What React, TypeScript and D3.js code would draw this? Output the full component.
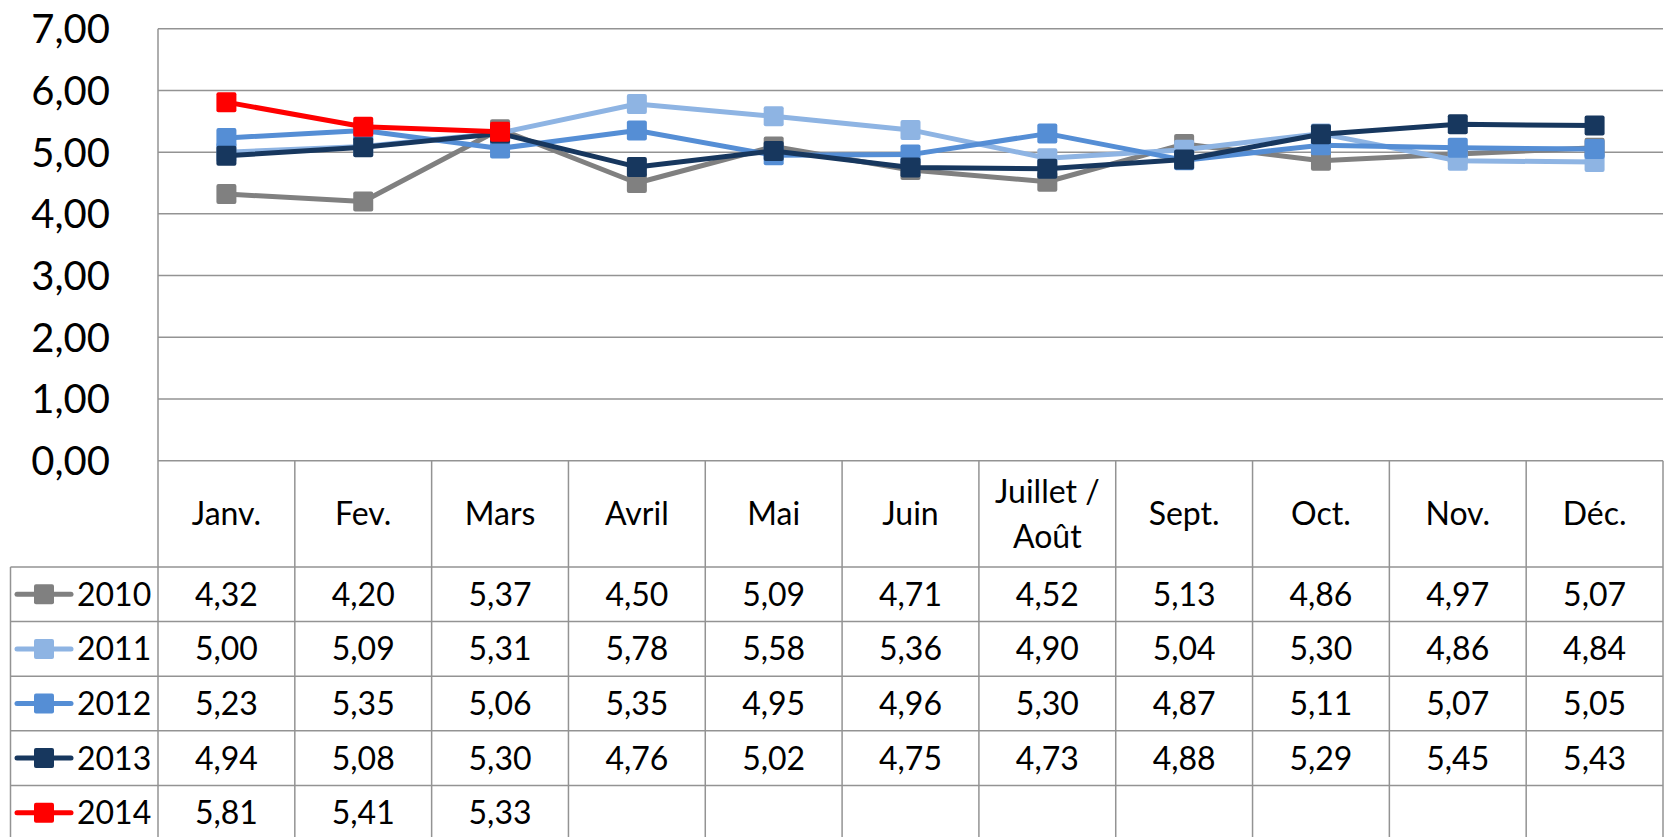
import * as d3 from 'd3';

const months = ['Janv.', 'Fev.', 'Mars', 'Avril', 'Mai', 'Juin', 'Juillet / Août', 'Sept.', 'Oct.', 'Nov.', 'Déc.'];
const years = ['2010', '2011', '2012', '2013', '2014'];
const v2010 = [4.32, 4.2, 5.37, 4.5, 5.09, 4.71, 4.52, 5.13, 4.86, 4.97, 5.07];
const v2011 = [5.0, 5.09, 5.31, 5.78, 5.58, 5.36, 4.9, 5.04, 5.3, 4.86, 4.84];
const v2012 = [5.23, 5.35, 5.06, 5.35, 4.95, 4.96, 5.3, 4.87, 5.11, 5.07, 5.05];
const v2013 = [4.94, 5.08, 5.3, 4.76, 5.02, 4.75, 4.73, 4.88, 5.29, 5.45, 5.43];
const v2014 = [5.81, 5.41, 5.33];
const yTicks = [0, 1, 2, 3, 4, 5, 6, 7];
const colors = ['#808080', '#8eb4e3', '#558ed5', '#17375e', '#ff0000'];

const W = 1665, H = 837;
const PL = 158, PR = 1663, PT = 28.7, PB = 460.7;
const HEAD_B = 567, ROW_H = 54.6, LEG_L = 10.5;
const FONT = 'Lato, "Open Sans", sans-serif';
const GRID = '#939393';

const series = [v2010, v2011, v2012, v2013, v2014];
const fmt = (v: number) => v.toFixed(2).replace('.', ',');

export default function App() {
  const x = d3.scaleBand<string>().domain(months).range([PL, PR]);
  const y = d3.scaleLinear().domain([0, 7]).range([PB, PT]);
  const cx = (i: number) => (x(months[i]) as number) + x.bandwidth() / 2;
  const line = d3.line<number>().x((_, i) => cx(i)).y((d) => y(d));
  const rowY = (r: number) => HEAD_B + r * ROW_H;
  const bottom = H + 5;

  return (
    <div style={{ position: 'fixed', left: 0, top: 0, background: '#fff' }}>
      <svg width={W} height={H} style={{ display: 'block' }}>
        <rect width={W} height={H} fill="#fff" />
        {/* gridlines */}
        {yTicks.map((t) => (
          <line key={t} x1={PL} x2={PR} y1={y(t)} y2={y(t)} stroke={GRID} strokeWidth={1.5} />
        ))}
        {yTicks.map((t) => (
          <text key={'l' + t} x={110} y={y(t) + 14.5} textAnchor="end" fontFamily={FONT} fontSize={40} fill="#000">
            {fmt(t)}
          </text>
        ))}
        {/* table verticals */}
        <line x1={PL} x2={PL} y1={PT} y2={bottom} stroke={GRID} strokeWidth={1.5} />
        {months.map((m) => (
          <line key={m} x1={(x(m) as number) + x.bandwidth()} x2={(x(m) as number) + x.bandwidth()} y1={PB} y2={bottom} stroke={GRID} strokeWidth={1.5} />
        ))}
        <line x1={LEG_L} x2={LEG_L} y1={HEAD_B} y2={bottom} stroke={GRID} strokeWidth={1.5} />
        {years.map((yr, r) => (
          <line key={yr} x1={LEG_L} x2={PR} y1={rowY(r)} y2={rowY(r)} stroke={GRID} strokeWidth={1.5} />
        ))}
        {/* header */}
        {months.map((m) => {
          const parts = m.includes(' / ') ? ['Juillet /', 'Août'] : [m];
          const c = (x(m) as number) + x.bandwidth() / 2;
          const mid = (PB + HEAD_B) / 2;
          return parts.map((p, k) => (
            <text key={m + k} x={c} y={mid + 11.5 + (k - (parts.length - 1) / 2) * 45} textAnchor="middle" fontFamily={FONT} fontSize={32} fill="#000">
              {p}
            </text>
          ));
        })}
        {/* rows */}
        {years.map((yr, r) => {
          const mid = rowY(r) + ROW_H / 2;
          return (
            <g key={'row' + yr}>
              <line x1={17} x2={71} y1={mid} y2={mid} stroke={colors[r]} strokeWidth={5} strokeLinecap="round" />
              <rect x={34} y={mid - 10} width={20} height={20} rx={2} fill={colors[r]} />
              <text x={77} y={mid + 11.5} fontFamily={FONT} fontSize={32} fill="#000">{yr}</text>
              {series[r].map((v, i) => (
                <text key={i} x={cx(i)} y={mid + 11.5} textAnchor="middle" fontFamily={FONT} fontSize={32} fill="#000">
                  {fmt(v)}
                </text>
              ))}
            </g>
          );
        })}
        {/* lines */}
        {series.map((s, r) => (
          <g key={'s' + r}>
            <path d={line(s) as string} fill="none" stroke={colors[r]} strokeWidth={5} strokeLinejoin="round" />
            {s.map((v, i) => (
              <rect key={i} x={cx(i) - 10} y={y(v) - 10} width={20} height={20} rx={2} fill={colors[r]} />
            ))}
          </g>
        ))}
      </svg>
    </div>
  );
}
